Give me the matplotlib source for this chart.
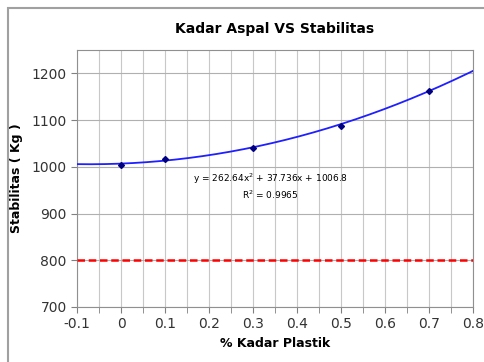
import numpy as np
import matplotlib.pyplot as plt
from matplotlib.patches import Rectangle
from matplotlib.ticker import MultipleLocator

# data
kadar_plastik = [0, 0.1, 0.3, 0.5, 0.7]
stabilitas = [1004, 1017, 1040, 1088, 1162]
coef = [262.64, 37.736, 1006.8]
batas_min = 800

fig = plt.figure(figsize=(4.85, 3.62), dpi=100)
fig.patches.append(Rectangle((0.017, -0.01), 0.99, 0.988, transform=fig.transFigure,
                             fill=False, edgecolor='#a0a0a0', linewidth=1.5))
ax = fig.add_axes([0.159, 0.152, 0.816, 0.710])

xs = np.linspace(-0.1, 0.8, 200)
ax.plot(xs, np.polyval(coef, xs), color='#1f1fff', linewidth=1.3, zorder=3)
ax.plot(kadar_plastik, stabilitas, 'D', color='#000080', markersize=3, zorder=4)
ax.axhline(batas_min, color='red', linestyle=(0, (3, 1.5)), linewidth=1.8, zorder=3)

ax.set_xlim(-0.1, 0.8)
ax.set_ylim(700, 1250)
ax.xaxis.set_major_locator(MultipleLocator(0.1))
ax.xaxis.set_minor_locator(MultipleLocator(0.05))
ax.yaxis.set_major_locator(MultipleLocator(100))
ax.set_xticks([-0.1, 0, 0.1, 0.2, 0.3, 0.4, 0.5, 0.6, 0.7, 0.8])
ax.set_xticklabels(['-0.1', '0', '0.1', '0.2', '0.3', '0.4', '0.5', '0.6', '0.7', '0.8'])
ax.grid(True, which='both', axis='x', color='#c8c8c8', linewidth=0.8)
ax.grid(True, which='major', axis='y', color='#b0b0b0', linewidth=0.8)
ax.tick_params(which='both', direction='out', length=4, color='#808080', labelsize=10,
               labelcolor='#333333')
for s in ax.spines.values():
    s.set_color('#909090')

ax.set_title('Kadar Aspal VS Stabilitas', fontsize=10, fontweight='bold', pad=12)
ax.set_xlabel('% Kadar Plastik', fontsize=9, fontweight='bold', labelpad=4)
ax.set_ylabel('Stabilitas ( Kg )', fontsize=9, fontweight='bold', labelpad=6)

ax.text(0.34, 958, 'y = 262.64x$^2$ + 37.736x + 1006.8\nR$^2$ = 0.9965', ha='center',
        va='center', fontsize=6.5, linespacing=1.3)

fig.savefig('out.png', dpi=100)
